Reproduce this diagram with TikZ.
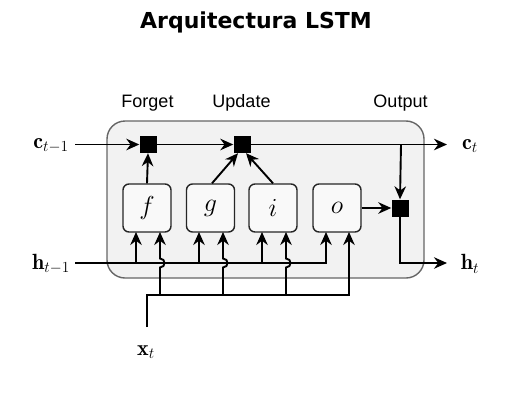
\RequirePackage{fix-cm}
\documentclass[tikz,border=0pt]{standalone}
\usepackage{fontspec}
\newfontfamily\titlefont{DejaVu Sans}
\newfontfamily\labfont{Liberation Sans}
\usetikzlibrary{arrows.meta,calc}
\begin{document}
\begin{tikzpicture}[x=1pt,y=-1pt,
  wire/.style={line width=1.9pt},
  arr/.style={wire,-{Stealth[length=13pt,width=11.5pt]}},
  mult/.style={fill=black,draw=none,minimum size=17pt,inner sep=0pt},
  gate/.style={draw=black!85,line width=1.4pt,rounded corners=6pt,fill=gray!5,minimum size=48pt,inner sep=0pt,font=\fontsize{26}{30}\selectfont},
  steplab/.style={font=\labfont\fontsize{18}{21}\selectfont,anchor=base},
  vlab/.style={font=\fontsize{22}{26}\selectfont}]
\useasboundingbox (0,0) rectangle (513,415);
% title
\node[font=\titlefont\bfseries\fontsize{22}{26}\selectfont,anchor=base] (title) at (256,28) {Arquitectura LSTM};
% cell
\node[draw=black!60,line width=1.4pt,fill=gray!10,rounded corners=18pt,minimum width=317pt,minimum height=157pt,inner sep=0pt] (cell) at (265.5,199.5) {};
% step labels
\node[steplab] (lforget) at (147.5,107) {Forget};
\node[steplab] (lupdate) at (241.5,107) {Update};
\node[steplab] (loutput) at (400.5,107) {Output};
% multiplication squares
\node[mult] (m1) at (148,144.5) {};
\node[mult] (m2) at (242,144.5) {};
\node[mult] (m3) at (400,208) {};
% gates
\node[gate] (f) at (147,208) {$f$};
\node[gate] (g) at (210.5,208) {$g$};
\node[gate] (i) at (273,208) {$i$};
\node[gate] (o) at (337,208) {$o$};
% outer labels
\node[vlab] (cin) at (51,146) {$\mathbf{c}_{t-1}$};
\node[vlab] (hin) at (51,264) {$\mathbf{h}_{t-1}$};
\node[vlab] (cout) at (470,146) {$\mathbf{c}_{t}$};
\node[vlab] (hout) at (470,264) {$\mathbf{h}_{t}$};
\node[vlab] (xin) at (146,352) {$\mathbf{x}_{t}$};
% coordinates
\coordinate (cs) at (75,144.5);
\coordinate (ce) at (447,144.5);
\coordinate (cb) at (401,144.5);
\coordinate (hs) at (75,263);
\coordinate (hc) at (400,263);
\coordinate (he) at (447,263);
\coordinate (xs) at (147,327);
\coordinate (xc) at (147,295);
% cell state line
\draw[arr] (cs) -- (m1.west);
\draw[arr] (m1.east) -- (m2.west);
\draw[arr] (m2.east) -- (ce);
\draw[arr] (cb) -- (m3.north);
\draw[arr] (m3.south) -- (hc) -- (he);
% gate outputs
\draw[arr] (f.north) -- (m1.south);
\draw[arr] ($(g.north)+(1.5,0)$) -- ($(m2.south)+(-4,0)$);
\draw[arr] (i.north) -- ($(m2.south)+(4,0)$);
\draw[arr] (o.east) -- (m3.west);
% h inputs
\draw[arr] (hs) -- (326,263) -- (326,232);
\draw[arr] (136,263) -- (136,232);
\draw[arr] (199,263) -- (199,232);
\draw[arr] (262,263) -- (262,232);
% x inputs
\draw[arr] (xs) -- (xc) -- (349,295) -- (349,232);
\foreach \xx in {160,223,286}{
  \draw[arr] (\xx,295) -- (\xx,267.5) .. controls (\xx+6,267.5) and (\xx+6,258.5) .. (\xx,258.5) -- (\xx,232);
}
\end{tikzpicture}
\end{document}
